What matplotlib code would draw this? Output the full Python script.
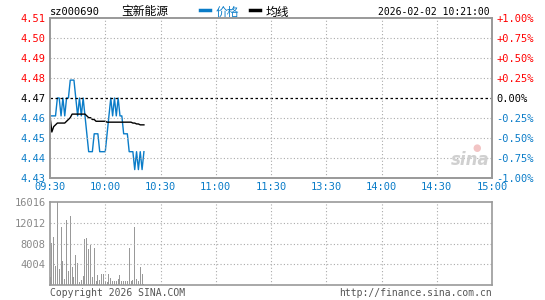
import numpy as np
import matplotlib
matplotlib.use('Agg')
import matplotlib.pyplot as plt
from matplotlib.lines import Line2D

plt.rcParams['font.family'] = ['DejaVu Sans Mono', 'Noto Sans CJK SC']

# ---- data (minute index from 09:30) ----
code = 'sz000690'
name = '宝新能源'
stamp = '2026-02-02 10:21:00'
prev_close = 4.47

price = [4.46, 4.46, 4.46, 4.46, 4.47, 4.47, 4.46, 4.47, 4.46, 4.47,
         4.47, 4.48, 4.48, 4.48, 4.47, 4.46, 4.47, 4.46, 4.47, 4.46,
         4.45, 4.44, 4.44, 4.44, 4.45, 4.45, 4.45, 4.44, 4.44, 4.44,
         4.44, 4.45, 4.46, 4.47, 4.46, 4.47, 4.46, 4.47, 4.46, 4.46,
         4.45, 4.45, 4.45, 4.44, 4.44, 4.44, 4.43, 4.44, 4.43, 4.44,
         4.43, 4.44]
avg = [4.460, 4.451, 4.454, 4.455, 4.456, 4.456, 4.456, 4.456, 4.456, 4.457,
       4.458, 4.459, 4.461, 4.461, 4.461, 4.461, 4.461, 4.461, 4.461, 4.461,
       4.460, 4.459, 4.459, 4.458, 4.458, 4.457, 4.457, 4.457, 4.457, 4.457,
       4.457, 4.4565, 4.4565, 4.4565, 4.4565, 4.4565, 4.4565, 4.4565, 4.4565, 4.4565,
       4.4565, 4.4565, 4.4565, 4.4565, 4.4565, 4.456, 4.456, 4.4555, 4.4555, 4.455,
       4.455, 4.455]
volume = [1470, 8170, 9190, 3700, 16016, 3060, 11100, 4660, 1200, 12500,
          2740, 13270, 3450, 1470, 5740, 4280, 640, 1020, 1790, 8870,
          9000, 6960, 7720, 1470, 7080, 830, 1950, 1000, 2060, 2120,
          515, 515, 2120, 1415, 772, 772, 772, 1160, 1930, 772,
          772, 772, 772, 7200, 772, 965, 11190, 1100, 772, 3540,
          2120, 257]

time_labels = ['09:30', '10:00', '10:30', '11:00', '11:30',
               '13:30', '14:00', '14:30', '15:00']
pct_steps = [-1.0, -0.75, -0.5, -0.25, 0.0, 0.25, 0.5, 0.75, 1.0]
vol_ticks = [4004, 8008, 12012, 16016]

BLUE = '#0a7cc8'
RED = '#ff0000'
GREY = '#999999'
TXT_GREY = '#888888'

minutes = np.arange(len(price))
price_ticks = [prev_close * (1 + p / 100) for p in pct_steps]

fig = plt.figure(figsize=(5.45, 3.0), dpi=100)
ax = fig.add_axes([50 / 545, 1 - 178 / 300, 442 / 545, 160 / 300])
axv = fig.add_axes([50 / 545, 1 - 285 / 300, 442 / 545, 83 / 300])

# ---- price panel ----
ax.plot(minutes, price, color=BLUE, lw=1.0)
ax.plot(minutes, avg, color='black', lw=1.0)
ax.set_xlim(0, 240)
ax.set_ylim(price_ticks[0], price_ticks[-1])

for v in price_ticks[1:-1]:
    if abs(v - prev_close) < 1e-9:
        ax.axhline(v, color='black', lw=0.9, ls=(0, (2, 2)))
    else:
        ax.axhline(v, color='#aaaaaa', lw=0.8, ls=(0, (1, 2)))
for t in range(30, 240, 30):
    ax.axvline(t, color='#aaaaaa', lw=0.8, ls=(0, (1, 2)))

ax.set_yticks(price_ticks, [f'{v:.2f}' for v in price_ticks])
ax.set_xticks(np.arange(0, 241, 30), time_labels)
ax.tick_params(axis='both', length=0, labelsize=7.5)
ax.tick_params(axis='y', pad=3)
ax.tick_params(axis='x', pad=3, labelcolor=BLUE)
for lab, p in zip(ax.get_yticklabels(), pct_steps):
    lab.set_color(RED if p > 0 else ('black' if p == 0 else BLUE))

ax2 = ax.twinx()
ax2.set_ylim(ax.get_ylim())
pct_labels = [('+' if p > 0 else ('-' if p < 0 else '')) + f'{abs(p):.2f}%' for p in pct_steps]
ax2.set_yticks(price_ticks, pct_labels)
ax2.tick_params(axis='y', length=0, labelsize=7.5, pad=3)
for lab, p in zip(ax2.get_yticklabels(), pct_steps):
    lab.set_color(RED if p > 0 else ('black' if p == 0 else BLUE))

for a in (ax, ax2, axv):
    for s in a.spines.values():
        s.set_color(GREY)
        s.set_linewidth(1.2)

# watermark
ax.text(0.995, 0.11, 'sina', transform=ax.transAxes, ha='right', va='center',
        fontsize=12, fontstyle='italic', fontweight='bold', color='#d0d0d0',
        family='DejaVu Sans')
ax.text(0.965, 0.19, '●', transform=ax.transAxes, ha='center', va='center',
        fontsize=7, color='#f2c4c4', family='DejaVu Sans')

# ---- volume panel ----
axv.bar(minutes, volume, width=0.55, color=GREY, align='center', antialiased=False)
axv.set_xlim(0, 240)
axv.set_ylim(0, vol_ticks[-1])
for v in vol_ticks[:-1]:
    axv.axhline(v, color='#aaaaaa', lw=0.8, ls=(0, (1, 2)))
for t in range(30, 240, 30):
    axv.axvline(t, color='#aaaaaa', lw=0.8, ls=(0, (1, 2)))
axv.set_xticks([])
axv.set_yticks(vol_ticks, [str(v) for v in vol_ticks])
axv.tick_params(axis='y', length=0, labelsize=7.5, pad=3, labelcolor=TXT_GREY)

# ---- header ----
fig.text(50 / 545, 1 - 12 / 300, code, fontsize=7.5, color='black', va='center', ha='left')
fig.text(145 / 545, 1 - 12 / 300, name, fontsize=8.5, color='black', va='center', ha='center',
         family=['Noto Sans CJK SC', 'DejaVu Sans'])
fig.add_artist(Line2D([200 / 545, 210 / 545], [1 - 10 / 300] * 2, color=BLUE, lw=2.5))
fig.text(216 / 545, 1 - 12 / 300, '价格', fontsize=8.5, color=BLUE, va='center', ha='left',
         family=['Noto Sans CJK SC', 'DejaVu Sans'])
fig.add_artist(Line2D([250 / 545, 260 / 545], [1 - 10 / 300] * 2, color='black', lw=2.5))
fig.text(266 / 545, 1 - 12 / 300, '均线', fontsize=8.5, color='black', va='center', ha='left',
         family=['Noto Sans CJK SC', 'DejaVu Sans'])
fig.text(490 / 545, 1 - 12 / 300, stamp, fontsize=7, color='black', va='center', ha='right')

# ---- footer ----
fig.text(50 / 545, 1 - 293 / 300, 'Copyright 2026 SINA.COM', fontsize=7, color='#555555',
         va='center', ha='left')
fig.text(492 / 545, 1 - 293 / 300, 'http://finance.sina.com.cn', fontsize=7, color='#555555',
         va='center', ha='right')

fig.savefig('out.png', dpi=100)
